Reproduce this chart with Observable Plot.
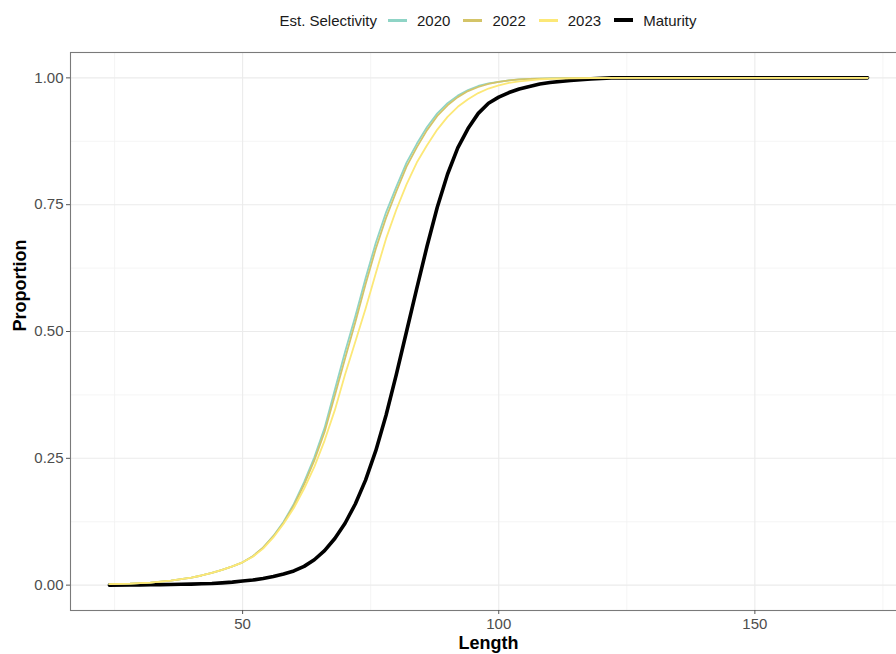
<!DOCTYPE html>
<html>
<head>
<meta charset="utf-8">
<script src="https://cdn.jsdelivr.net/npm/d3@7"></script>
<script src="https://cdn.jsdelivr.net/npm/@observablehq/plot@0.6"></script>
<style>
  html, body { margin: 0; padding: 0; background: #fff; overflow: hidden; }
  #wrap { width: 912px; font-family: "Liberation Sans", Arial, sans-serif; }
  #legend { height: 40px; box-sizing: border-box; padding-left: 64px; display: flex; justify-content: center; align-items: center; font-size: 15px; color: #1a1a1a; }
  #legend .title { margin-right: 11px; }
  #legend .key { display: inline-block; width: 19px; height: 3px; margin-right: 10px; }
  #legend .lab { margin-right: 13px; }
  #legend .lab:last-child { margin-right: 0; }
</style>
</head>
<body>
<div id="wrap">
  <div id="legend"></div>
  <div id="chart"></div>
</div>
<script>
const lengths = [24, 28, 30, 32, 34, 36, 38, 40, 42, 44, 46, 48, 50, 52, 54, 56, 58, 60, 62, 64, 66, 68, 70, 72, 74, 76, 78, 80, 82, 84, 86, 88, 90, 92, 94, 96, 98, 100, 102, 104, 106, 108, 110, 114, 118, 122, 172];

const sel2020 = [0.002, 0.003, 0.004, 0.005, 0.007, 0.009, 0.012, 0.015, 0.019, 0.024, 0.030, 0.037, 0.045, 0.057, 0.074, 0.097, 0.125, 0.160, 0.203, 0.252, 0.310, 0.385, 0.460, 0.530, 0.605, 0.675, 0.735, 0.785, 0.833, 0.870, 0.903, 0.930, 0.950, 0.965, 0.976, 0.984, 0.989, 0.992, 0.995, 0.997, 0.998, 0.9985, 0.999, 0.9995, 0.9998, 1, 1];

const sel2022 = [0.002, 0.003, 0.004, 0.005, 0.007, 0.009, 0.012, 0.015, 0.019, 0.024, 0.030, 0.037, 0.045, 0.057, 0.074, 0.096, 0.123, 0.157, 0.198, 0.246, 0.302, 0.374, 0.447, 0.518, 0.593, 0.663, 0.724, 0.776, 0.825, 0.863, 0.897, 0.925, 0.946, 0.962, 0.974, 0.982, 0.988, 0.992, 0.995, 0.997, 0.998, 0.9985, 0.999, 0.9995, 0.9998, 1, 1];

const sel2023 = [0.002, 0.003, 0.004, 0.005, 0.007, 0.009, 0.012, 0.015, 0.019, 0.024, 0.030, 0.037, 0.045, 0.056, 0.072, 0.094, 0.121, 0.152, 0.190, 0.233, 0.285, 0.345, 0.415, 0.480, 0.545, 0.615, 0.683, 0.740, 0.790, 0.833, 0.867, 0.898, 0.923, 0.943, 0.958, 0.970, 0.979, 0.985, 0.990, 0.993, 0.995, 0.997, 0.998, 0.999, 0.9995, 1, 1];

const maturity = [0, 0.0003, 0.0005, 0.0007, 0.001, 0.0013, 0.0017, 0.002, 0.0026, 0.0033, 0.0045, 0.006, 0.008, 0.010, 0.013, 0.017, 0.022, 0.028, 0.037, 0.050, 0.068, 0.092, 0.122, 0.160, 0.207, 0.265, 0.335, 0.415, 0.500, 0.585, 0.668, 0.745, 0.810, 0.862, 0.900, 0.930, 0.950, 0.962, 0.971, 0.978, 0.983, 0.988, 0.991, 0.995, 0.998, 1, 1];

const seriesNames = ["2020", "2022", "2023", "Maturity"];
const seriesColors = ["#8fd4c6", "#d4c468", "#fce877", "#000000"];
const seriesValues = [sel2020, sel2022, sel2023, maturity];
const legendTitle = "Est. Selectivity";

const xTicks = [50, 100, 150];
const xMinor = [25, 75, 125, 175];
const yTicks = [0, 0.25, 0.5, 0.75, 1];
const yTickLabels = ["0.00", "0.25", "0.50", "0.75", "1.00"];
const yMinor = [0.125, 0.375, 0.625, 0.875];

// tidy table
const rows = [];
seriesNames.forEach((name, i) => {
  lengths.forEach((L, j) => rows.push({series: name, length: L, value: seriesValues[i][j]}));
});

// legend
const leg = document.getElementById("legend");
const t = document.createElement("span"); t.className = "title"; t.textContent = legendTitle; leg.appendChild(t);
seriesNames.forEach((name, i) => {
  const k = document.createElement("span"); k.className = "key"; k.style.background = seriesColors[i];
  if (name === "Maturity") k.style.height = "4px";
  leg.appendChild(k);
  const l = document.createElement("span"); l.className = "lab"; l.textContent = name; leg.appendChild(l);
});

const order = ["Maturity", "2020", "2022", "2023"];
const lineMarks = order.map(name => {
  const i = seriesNames.indexOf(name);
  return Plot.line(rows.filter(r => r.series === name), {
    x: "length", y: "value",
    stroke: seriesColors[i],
    strokeWidth: name === "Maturity" ? 3.6 : 1.8,
    strokeLinejoin: "round"
  });
});

const chart = Plot.plot({
  width: 912,
  height: 620,
  marginLeft: 70,
  marginRight: 6,
  marginTop: 12,
  marginBottom: 50,
  style: {fontFamily: "'Liberation Sans', Arial, sans-serif", background: "#fff"},
  x: {domain: [16.4, 179.6], axis: null},
  y: {domain: [-0.05, 1.05], axis: null},
  marks: [
    Plot.ruleX(xMinor, {stroke: "#f2f2f2", strokeWidth: 0.8}),
    Plot.ruleY(yMinor, {stroke: "#f2f2f2", strokeWidth: 0.8}),
    Plot.ruleX(xTicks, {stroke: "#ebebeb", strokeWidth: 1.1}),
    Plot.ruleY(yTicks, {stroke: "#ebebeb", strokeWidth: 1.1}),
    ...lineMarks,
    Plot.frame({stroke: "#7a7a7a", strokeWidth: 1.1}),
    Plot.axisX(xTicks, {tickSize: 4, tickPadding: 4, fontSize: 15, fill: "#4d4d4d", stroke: "#555", label: null, tickFormat: d => String(d)}),
    Plot.axisY(yTicks, {tickSize: 4, tickPadding: 3, fontSize: 15, fill: "#4d4d4d", stroke: "#555", label: null, tickFormat: (d, i) => yTickLabels[i]}),
    Plot.text(["Length"], {text: d => d, frameAnchor: "bottom", dy: 38, fontSize: 18, fontWeight: "bold", fill: "#000"}),
    Plot.text(["Proportion"], {text: d => d, frameAnchor: "left", dx: -50, rotate: -90, fontSize: 18, fontWeight: "bold", fill: "#000"})
  ]
});
document.getElementById("chart").appendChild(chart);
</script>
</body>
</html>
